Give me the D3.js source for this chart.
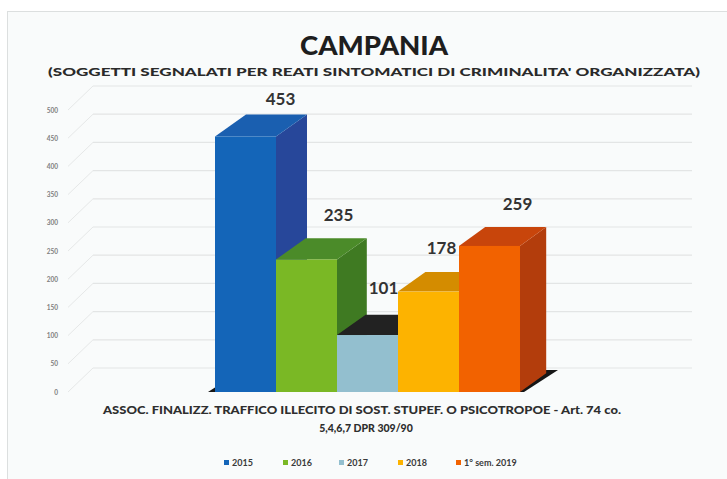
<!DOCTYPE html>
<html>
<head>
<meta charset="utf-8">
<script src="https://cdn.jsdelivr.net/npm/d3@7"></script>
<style>
  body { margin: 0; background: #fff; }
  svg { display: block; font-family: Lato, "Open Sans", sans-serif; }
</style>
</head>
<body>
<div id="chart"></div>
<script>
// data
var series = ["2015", "2016", "2017", "2018", "1° sem. 2019"];
var values = [453, 235, 101, 178, 259];
var yTicks = [0, 50, 100, 150, 200, 250, 300, 350, 400, 450, 500];
var title = "CAMPANIA";
var subtitle = "(SOGGETTI SEGNALATI PER REATI SINTOMATICI DI CRIMINALITA' ORGANIZZATA)";
var categoryLines = ["ASSOC. FINALIZZ. TRAFFICO ILLECITO DI SOST. STUPEF. O  PSICOTROPOE - Art. 74 co.",
                     "5,4,6,7 DPR 309/90"];

var colors = [
  {front: "#1465b8", side: "#27479a", top: "#1a5fb0"},
  {front: "#7ab825", side: "#3f7a22", top: "#4b8b29"},
  {front: "#93bfcf", side: "#2a2a2a", top: "#222222"},
  {front: "#fdb300", side: "#c98400", top: "#d48c00"},
  {front: "#f26200", side: "#b33d0c", top: "#c8450b"}
];

var W = 727, H = 479;

var svg = d3.select("#chart")
    .append("svg")
    .attr("width", W)
    .attr("height", H);

// frame
svg.append("rect")
    .attr("x", 7.5).attr("y", 11.5)
    .attr("width", W).attr("height", H)
    .attr("fill", "#f9fbfb")
    .attr("stroke", "#dcdfdf");

var y = d3.scaleLinear()
    .domain([0, 500])
    .range([392, 110]);

var x = d3.scaleBand()
    .domain(series)
    .range([215, 520])
    .padding(0);

// depth of the back wall
var depthY = -24;

// back wall gridlines + side wall diagonals
var grid = svg.append("g");
yTicks.forEach(function(t) {
    grid.append("line")
        .attr("x1", 93).attr("x2", 692)
        .attr("y1", y(t) + depthY).attr("y2", y(t) + depthY)
        .attr("stroke", "#e3e5e5").attr("stroke-width", 1.2);
    grid.append("line")
        .attr("x1", 68).attr("x2", 93)
        .attr("y1", y(t)).attr("y2", y(t) + depthY)
        .attr("stroke", "#e6e8e8").attr("stroke-width", 1);
});

// y axis labels
var yAxis = svg.append("g")
    .attr("transform", "translate(58,0)")
    .call(d3.axisLeft(y).tickValues(yTicks).tickSize(0).tickPadding(0));
yAxis.select(".domain").remove();
yAxis.selectAll("text")
    .attr("font-size", 6.5)
    .attr("font-family", "Lato, sans-serif")
    .attr("font-weight", "bold")
    .attr("fill", "#808080");

// floor
var f0 = y(0);
svg.append("path")
    .attr("d", "M" + 208 + "," + f0 + "L" + 524 + "," + f0 +
               "L" + (524 + 34) + "," + (f0 - 22) + "L" + (208 + 34) + "," + (f0 - 22) + "Z")
    .attr("fill", "#161616");

// bars
var bars = svg.append("g");
series.forEach(function(s, i) {
    var v = values[i];
    var x0 = x(s), x1 = x(s) + x.bandwidth();
    var yt = y(v), yb = y(0);
    var dx = 31 - i * 1.2, dy = -22 + i * 0.8;
    var g = bars.append("g");
    // side
    g.append("path")
        .attr("d", "M" + x1 + "," + yb + "L" + x1 + "," + yt + "L" + (x1 + dx) + "," + (yt + dy) +
                   "L" + (x1 + dx) + "," + (yb + dy) + "Z")
        .attr("fill", colors[i].side);
    // top
    g.append("path")
        .attr("d", "M" + x0 + "," + yt + "L" + x1 + "," + yt + "L" + (x1 + dx) + "," + (yt + dy) +
                   "L" + (x0 + dx) + "," + (yt + dy) + "Z")
        .attr("fill", colors[i].top);
    // front
    g.append("rect")
        .attr("x", x0).attr("y", yt)
        .attr("width", x.bandwidth()).attr("height", yb - yt)
        .attr("fill", colors[i].front);
});

// value labels (excel nudges them around a bit)
var labelShiftX = [35, 32, 16, 13, 28];
var labelShiftY = [-32, -38, -41, -38, -36];
series.forEach(function(s, i) {
    svg.append("text")
        .attr("x", x(s) + x.bandwidth() / 2 + labelShiftX[i])
        .attr("y", y(values[i]) + labelShiftY[i])
        .attr("text-anchor", "middle")
        .attr("font-size", 17)
        .attr("font-weight", "bold")
        .attr("fill", "#333")
        .text(values[i]);
});

// titles
svg.append("text")
    .attr("x", 374).attr("y", 55)
    .attr("text-anchor", "middle")
    .attr("font-size", 26)
    .attr("font-weight", "900")
    .attr("fill", "#1e1e1e")
    .attr("textLength", 148)
    .attr("lengthAdjust", "spacingAndGlyphs")
    .text(title);

svg.append("text")
    .attr("x", 374).attr("y", 76)
    .attr("text-anchor", "middle")
    .attr("font-size", 11)
    .attr("font-weight", "900")
    .attr("fill", "#2a2a2a")
    .attr("textLength", 652)
    .attr("lengthAdjust", "spacingAndGlyphs")
    .text(subtitle);

// category label
svg.append("text")
    .attr("x", 362).attr("y", 414)
    .attr("text-anchor", "middle")
    .attr("font-size", 10.5)
    .attr("font-weight", "900")
    .attr("fill", "#2e2e2e")
    .attr("textLength", 518)
    .attr("lengthAdjust", "spacingAndGlyphs")
    .text(categoryLines[0]);
svg.append("text")
    .attr("x", 366).attr("y", 432)
    .attr("text-anchor", "middle")
    .attr("font-size", 10.5)
    .attr("font-weight", "900")
    .attr("fill", "#2e2e2e")
    .text(categoryLines[1]);

// legend
var legendX = [224, 283, 339, 398, 456];
var legend = svg.append("g");
series.forEach(function(s, i) {
    legend.append("rect")
        .attr("x", legendX[i]).attr("y", 460)
        .attr("width", 5).attr("height", 5)
        .attr("fill", colors[i].front);
    legend.append("text")
        .attr("x", legendX[i] + 8).attr("y", 466)
        .attr("font-size", 9)
        .attr("font-weight", "bold")
        .attr("fill", "#3a3a3a")
        .text(s);
});
</script>
</body>
</html>
